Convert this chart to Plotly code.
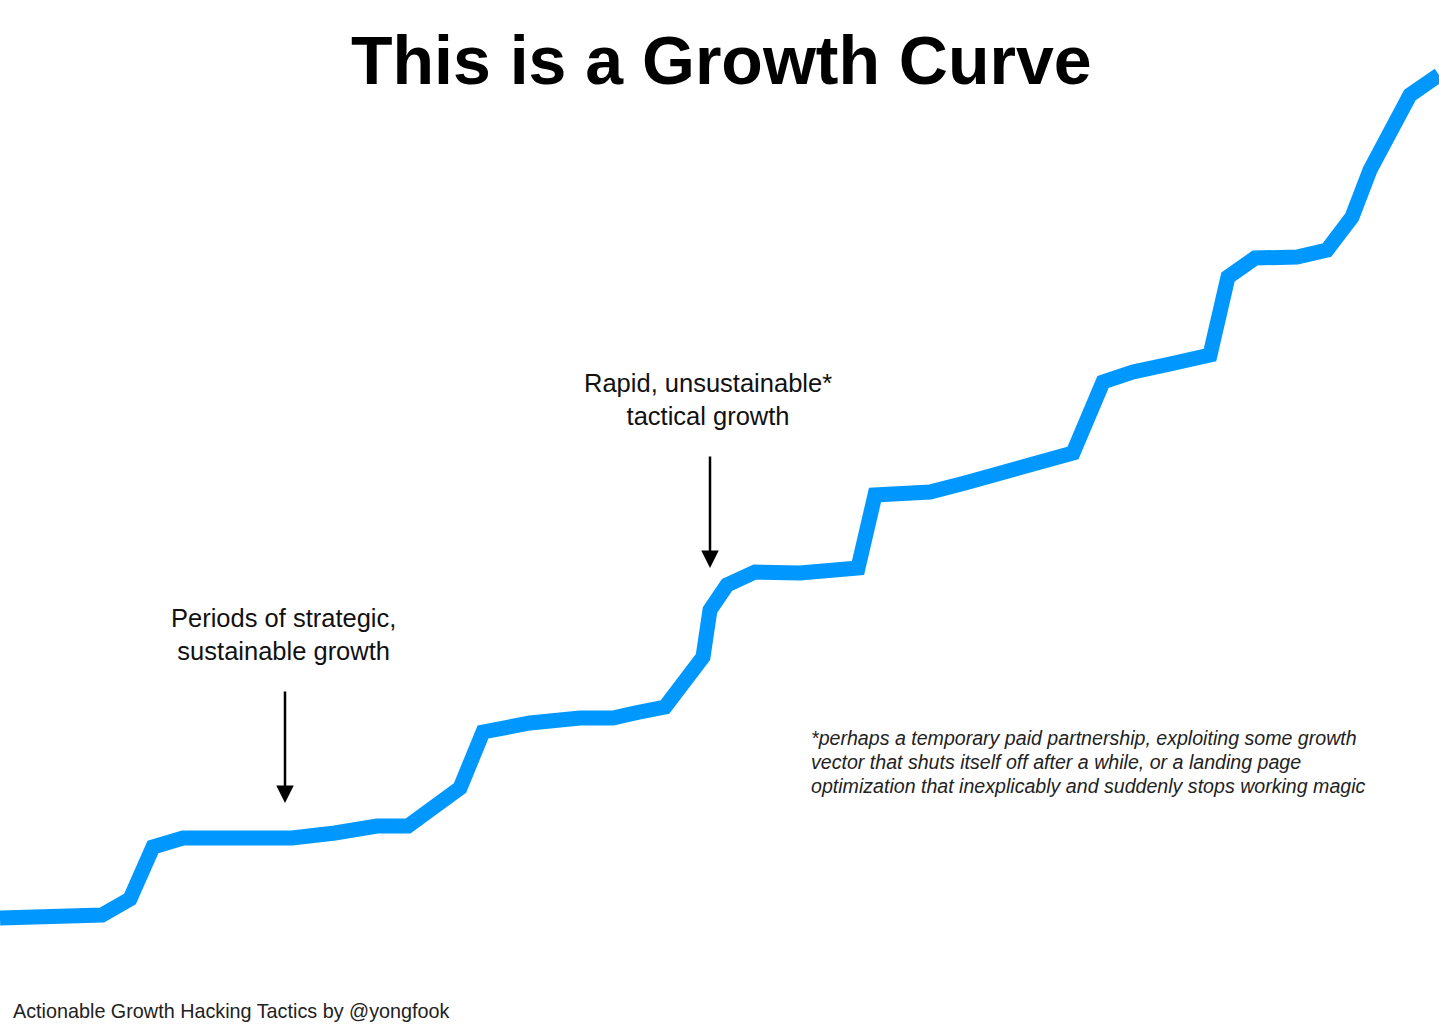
import plotly.graph_objects as go

# Growth curve (x = time, y = growth level)
time_points = [0, 30, 102, 130, 153, 183, 240, 292, 335, 377, 408, 460, 483, 530, 580,
               613, 635, 665, 703, 710, 727, 755, 800, 833, 858, 875, 900, 930, 965, 1000,
               1030, 1045, 1073, 1103, 1133, 1170, 1210, 1228, 1255, 1297, 1327, 1352,
               1370, 1410, 1439]
growth_level = [112, 113, 115, 131, 183, 192, 191, 192, 197, 204, 204, 242, 298, 307, 312,
                312, 317, 323, 373, 420, 445, 458, 457, 460, 462, 535, 538, 538, 547, 557,
                566, 571, 577, 648, 658, 666, 675, 753, 772, 773, 780, 813,
                860, 935, 955]

title_text = "This is a Growth Curve"
label_strategic = "Periods of strategic,<br>sustainable growth"
label_tactical = "Rapid, unsustainable*<br>tactical growth"
footnote_lines = [
    "*perhaps a temporary paid partnership, exploiting some growth",
    "vector that shuts itself off after a while, or a landing page",
    "optimization that inexplicably and suddenly stops working magic",
]
footer_text = "Actionable Growth Hacking Tactics by @yongfook"

W, H = 1439, 1030
FONT = "Liberation Sans, Arial, Helvetica, sans-serif"

fig = go.Figure()
fig.add_trace(go.Scatter(
    x=time_points, y=growth_level, mode="lines",
    line=dict(color="#0098FF", width=15, shape="linear"),
    hoverinfo="skip", showlegend=False,
))

annotations = [
    dict(text="<b>" + title_text + "</b>", x=721, y=H - 60, xref="x", yref="y",
         showarrow=False, font=dict(family=FONT, size=68, color="#000"),
         xanchor="center", yanchor="middle"),
    dict(text=label_strategic, x=283, y=H - 634, xref="x", yref="y", showarrow=False,
         font=dict(family=FONT, size=25.5, color="#111"), xanchor="center", yanchor="middle",
         align="center"),
    dict(text=label_tactical, x=708, y=H - 399, xref="x", yref="y", showarrow=False,
         font=dict(family=FONT, size=25.5, color="#111"), xanchor="center", yanchor="middle",
         align="center"),
    # arrows
    dict(x=285, y=H - 803, ax=285, ay=H - 690, xref="x", yref="y", axref="x", ayref="y",
         showarrow=True, arrowhead=2, arrowsize=1.4, arrowwidth=2.5, arrowcolor="#000",
         text=""),
    dict(x=710, y=H - 568, ax=710, ay=H - 455, xref="x", yref="y", axref="x", ayref="y",
         showarrow=True, arrowhead=2, arrowsize=1.4, arrowwidth=2.5, arrowcolor="#000",
         text=""),
    dict(text=footer_text, x=11, y=H - 1011, xref="x", yref="y", showarrow=False,
         font=dict(family=FONT, size=19.8, color="#222"), xanchor="left", yanchor="middle"),
]
for i, line in enumerate(footnote_lines):
    annotations.append(dict(
        text="<i>" + line + "</i>", x=809, y=H - (738 + 24 * i), xref="x", yref="y",
        showarrow=False, font=dict(family=FONT, size=19.6, color="#222"),
        xanchor="left", yanchor="middle", align="left"))

fig.update_layout(
    width=W, height=H,
    margin=dict(l=0, r=0, t=0, b=0),
    paper_bgcolor="white", plot_bgcolor="white",
    xaxis=dict(range=[0, W], visible=False, fixedrange=True),
    yaxis=dict(range=[0, H], visible=False, fixedrange=True),
    annotations=annotations,
)

fig.write_html("out.html", config={"displayModeBar": False},
               post_script="document.body.style.margin='0';")
